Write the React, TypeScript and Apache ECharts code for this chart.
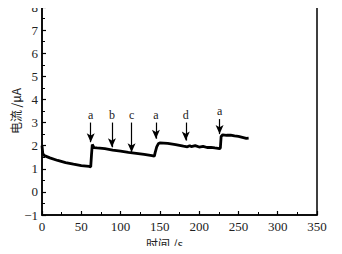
import React, { useEffect, useRef } from "react";
import * as echarts from "echarts";

const timeS = [0, 1, 3, 10, 20, 30, 40, 50, 60, 62, 63, 64, 66, 70, 80, 90, 100, 110, 120, 130, 140, 143, 144, 146, 148, 150, 160, 170, 180, 185, 188, 190, 195, 200, 205, 210, 215, 220, 226, 227, 228, 230, 235, 240, 245, 250, 255, 260, 263];
const currentUA = [2.0, 1.65, 1.57, 1.47, 1.36, 1.27, 1.2, 1.14, 1.1, 1.08, 1.6, 2.05, 1.92, 1.9, 1.87, 1.81, 1.76, 1.71, 1.67, 1.62, 1.57, 1.55, 1.7, 1.95, 2.08, 2.12, 2.1, 2.05, 1.98, 1.95, 2.0, 1.96, 2.0, 1.94, 1.97, 1.92, 1.93, 1.9, 1.87, 1.9, 2.4, 2.47, 2.45, 2.46, 2.42, 2.4, 2.36, 2.32, 2.33];

const arrowX = [62, 89, 114, 145, 183, 226];
const arrowLabels = ["a", "b", "c", "a", "d", "a"];
const arrowTop = [3.0, 3.0, 3.0, 3.0, 3.0, 3.15];
const arrowTip = [2.15, 1.93, 1.71, 2.3, 2.22, 2.5];

const xTicks = { min: 0, max: 350, interval: 50 };
const yTicks = { min: -1, max: 8, interval: 1 };

export default function App() {
  const ref = useRef<HTMLDivElement>(null);
  useEffect(() => {
    const chart = echarts.init(ref.current!, null, { renderer: "svg" });
    const font = "'Liberation Serif', 'DejaVu Serif', serif";
    const cjk = "'Noto Sans CJK SC', sans-serif";
    chart.setOption({
      animation: false,
      grid: { left: 42, right: 25, top: 7, bottom: 39, show: true, borderColor: "#000", borderWidth: 1.5, backgroundColor: "transparent", outerBoundsMode: "none", containLabel: false },
      xAxis: {
        type: "value",
        min: xTicks.min, max: xTicks.max, interval: xTicks.interval,
        name: "时间 /s", nameLocation: "middle", nameGap: 22, nameMoveOverlap: false,
        nameTextStyle: { fontFamily: cjk, fontSize: 12, color: "#222", padding: [0, 30, 0, 0] },
        axisLine: { onZero: false, lineStyle: { color: "#000", width: 1.5 } },
        axisTick: { inside: true, length: 4, lineStyle: { color: "#000", width: 1.2 } },
        minorTick: { show: true, splitNumber: 2, length: 3, lineStyle: { color: "#000", width: 1 } },
        splitLine: { show: false },
        axisLabel: { fontFamily: font, fontSize: 13, color: "#222", margin: 5 },
      },
      yAxis: {
        type: "value",
        min: yTicks.min, max: yTicks.max, interval: yTicks.interval,
        name: "电流 /μA", nameLocation: "middle", nameGap: 21, nameMoveOverlap: false,
        nameTextStyle: { fontFamily: cjk, fontSize: 12, color: "#222" },
        axisLine: { onZero: false, lineStyle: { color: "#000", width: 1.5 } },
        axisTick: { inside: true, length: 4, lineStyle: { color: "#000", width: 1.2 } },
        minorTick: { show: true, splitNumber: 2, length: 3, lineStyle: { color: "#000", width: 1 } },
        splitLine: { show: false },
        axisLabel: { fontFamily: font, fontSize: 13, color: "#222", margin: 4, formatter: (v: number) => (v < 0 ? "−" + Math.abs(v) : String(v)) },
      },
      series: [
        {
          type: "line",
          data: timeS.map((t, i) => [t, currentUA[i]]),
          showSymbol: false,
          lineStyle: { color: "#000", width: 2.8 },
          markLine: {
            silent: true,
            symbol: ["none", "arrow"],
            symbolSize: [6, 9],
            lineStyle: { color: "#000", width: 1.2, type: "solid" },
            label: { show: true, position: "start", distance: 2, fontFamily: font, fontSize: 12, color: "#222" },
            data: arrowX.map((x, i) => [
              { coord: [x, arrowTop[i]], name: arrowLabels[i], label: { formatter: arrowLabels[i] } },
              { coord: [x, arrowTip[i]] },
            ]),
          },
        },
      ],
    });
    return () => chart.dispose();
  }, []);
  return <div ref={ref} style={{ width: 342, height: 254, margin: -8 }} />;
}
